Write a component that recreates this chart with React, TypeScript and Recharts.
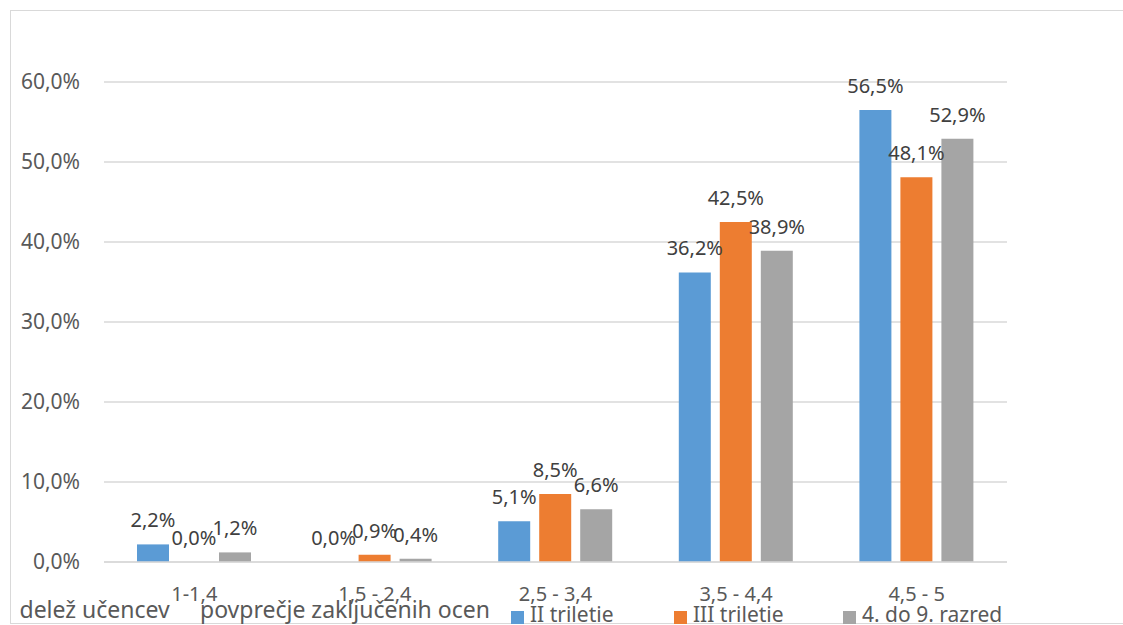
import React from "react";
import { Bar, BarChart, CartesianGrid, LabelList, XAxis, YAxis } from "recharts";

const categories = ["1-1,4", "1,5 - 2,4", "2,5 - 3,4", "3,5 - 4,4", "4,5 - 5"];
const secondTriad = [2.2, 0.0, 5.1, 36.2, 56.5];
const thirdTriad = [0.0, 0.9, 8.5, 42.5, 48.1];
const grades4to9 = [1.2, 0.4, 6.6, 38.9, 52.9];
const yTicks = [0, 10, 20, 30, 40, 50, 60];

const series = [
  { key: "ii", name: "II triletie", color: "#5B9BD5", values: secondTriad },
  { key: "iii", name: "III triletie", color: "#ED7D31", values: thirdTriad },
  { key: "all", name: "4. do 9. razred", color: "#A5A5A5", values: grades4to9 }
];

const data = categories.map((cat, i) => {
  const row: Record<string, string | number> = { cat };
  series.forEach((s) => {
    row[s.key] = s.values[i];
  });
  return row;
});

const fmt = (v: number) => v.toFixed(1).replace(".", ",") + "%";
const FONT = "'Noto Sans', sans-serif";

// zero bars still need their "0,0%" label, so give them a hairline height
const zeroSize = (value: any) => (Number(value) === 0 ? 0.01 : 0);

export default function App() {
  return (
    <div
      style={{
        position: "absolute",
        left: 0,
        top: 0,
        width: 1123,
        height: 625,
        overflow: "hidden",
        background: "#fff",
        fontFamily: FONT
      }}
    >
      <div
        style={{
          position: "absolute",
          left: 10,
          top: 10,
          width: 1130,
          height: 612,
          border: "1px solid #d9d9d9"
        }}
      />
      <div style={{ position: "absolute", left: 0, top: 0 }}>
        <BarChart
          width={1123}
          height={625}
          data={data}
          margin={{ top: 82, right: 116, bottom: 0, left: 0 }}
          barSize={32}
          barGap={9}
        >
          <CartesianGrid vertical={false} stroke="#d9d9d9" strokeWidth={1.5} />
          <XAxis
            dataKey="cat"
            height={63}
            tickLine={false}
            tickSize={0}
            tickMargin={25}
            axisLine={{ stroke: "#d9d9d9", strokeWidth: 1.5 }}
            tick={{ fill: "#595959", fontSize: 20, fontFamily: FONT }}
            interval={0}
          />
          <YAxis
            width={104}
            domain={[0, 60]}
            ticks={yTicks}
            tickFormatter={fmt}
            axisLine={false}
            tickLine={false}
            tickSize={0}
            tickMargin={24}
            tick={{ fill: "#595959", fontSize: 21, fontFamily: FONT }}
          />
          {series.map((s) => (
            <Bar
              key={s.key}
              dataKey={s.key}
              name={s.name}
              fill={s.color}
              minPointSize={zeroSize}
              isAnimationActive={false}
            >
              <LabelList
                dataKey={s.key}
                position="top"
                offset={17}
                formatter={(v: any) => fmt(Number(v))}
                style={{ fill: "#404040", fontSize: 20, fontFamily: FONT }}
              />
            </Bar>
          ))}
        </BarChart>
      </div>
      <div
        style={{
          position: "absolute",
          left: 19.5,
          top: 597.6,
          fontSize: 23,
          lineHeight: "23px",
          color: "#595959",
          whiteSpace: "nowrap"
        }}
      >
        delež učencev
      </div>
      <div
        style={{
          position: "absolute",
          left: 200,
          top: 597.6,
          fontSize: 23,
          lineHeight: "23px",
          color: "#595959",
          whiteSpace: "nowrap"
        }}
      >
        povprečje zaključenih ocen
      </div>
      <div
        style={{
          position: "absolute",
          left: 511,
          top: 604.3,
          display: "flex",
          fontSize: 21,
          lineHeight: "21px",
          color: "#595959",
          whiteSpace: "nowrap"
        }}
      >
        {series.map((s, i) => (
          <div key={s.key} style={{ display: "flex", alignItems: "flex-start", width: i === 0 ? 163 : 169 }}>
            <span
              style={{
                display: "inline-block",
                width: 13,
                height: 13,
                marginTop: 6.7,
                marginRight: 6,
                background: s.color
              }}
            />
            <span>{s.name}</span>
          </div>
        ))}
      </div>
    </div>
  );
}
